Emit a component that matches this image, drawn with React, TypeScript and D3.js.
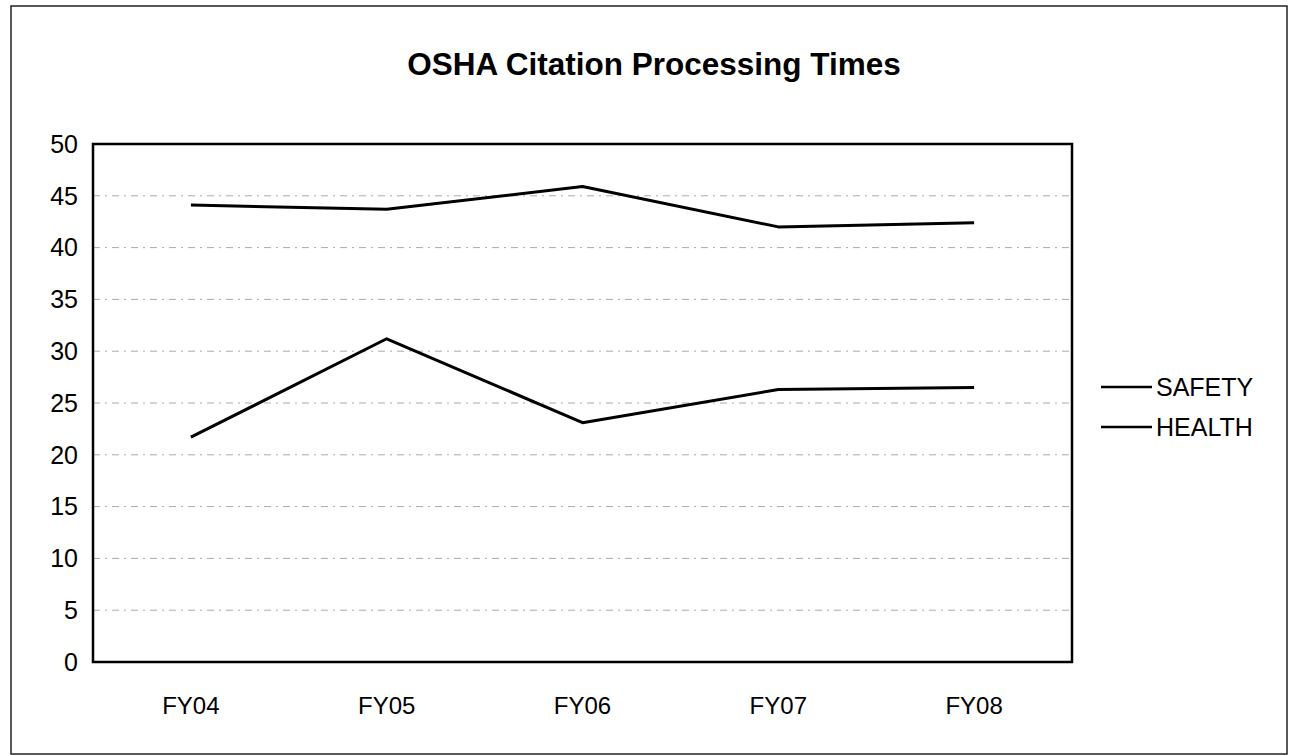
import React from "react";
import * as d3 from "d3";

const categories = ["FY04", "FY05", "FY06", "FY07", "FY08"];
const seriesNames = ["SAFETY", "HEALTH"];
const safetyValues = [21.7, 31.2, 23.1, 26.3, 26.5];
const healthValues = [44.1, 43.7, 45.9, 42.0, 42.4];
const yTicks = [0, 5, 10, 15, 20, 25, 30, 35, 40, 45, 50];
const title = "OSHA Citation Processing Times";

const W = 1292;
const H = 755;
const plot = { left: 93, right: 1072, top: 144, bottom: 662 };

export default function App() {
  const x = d3
    .scaleBand<string>()
    .domain(categories)
    .range([plot.left, plot.right])
    .padding(0);
  const y = d3.scaleLinear().domain([0, 50]).range([plot.bottom, plot.top]);
  const cx = (c: string) => (x(c) as number) + x.bandwidth() / 2;

  const line = d3
    .line<number>()
    .x((_, i) => cx(categories[i]))
    .y((d) => y(d));

  const series = [safetyValues, healthValues];
  const font = "Arial, 'Liberation Sans', Helvetica, sans-serif";

  return (
    <svg
      width={W}
      height={H}
      style={{ position: "absolute", left: 0, top: 0, background: "#fff" }}
      fontFamily={font}
    >
      <rect x={0} y={0} width={W} height={H} fill="#fff" />
      <rect
        x={11}
        y={6}
        width={1276}
        height={748}
        fill="none"
        stroke="#222"
        strokeWidth={1.5}
      />
      <text
        x={654}
        y={75}
        textAnchor="middle"
        fontSize={31.5}
        fontWeight="bold"
        fill="#000"
      >
        {title}
      </text>

      {yTicks
        .filter((t) => t > 0 && t < 50)
        .map((t) => (
          <line
            key={"g" + t}
            x1={plot.left}
            x2={plot.right}
            y1={y(t)}
            y2={y(t)}
            stroke="#aaa"
            strokeWidth={1}
            strokeDasharray="7,5,2,5"
          />
        ))}

      {yTicks.map((t) => (
        <text
          key={"yl" + t}
          x={78}
          y={y(t)}
          dy="0.35em"
          textAnchor="end"
          fontSize={25}
          fill="#000"
        >
          {t}
        </text>
      ))}

      {categories.map((c) => (
        <text
          key={"xl" + c}
          x={cx(c)}
          y={714}
          textAnchor="middle"
          fontSize={24}
          fill="#000"
        >
          {c}
        </text>
      ))}

      {series.map((vals, i) => (
        <path
          key={"s" + i}
          d={line(vals) as string}
          fill="none"
          stroke="#000"
          strokeWidth={3}
          strokeLinejoin="round"
        />
      ))}

      <rect
        x={plot.left}
        y={plot.top}
        width={plot.right - plot.left}
        height={plot.bottom - plot.top}
        fill="none"
        stroke="#000"
        strokeWidth={2.5}
      />

      {seriesNames.map((n, i) => (
        <g key={"lg" + n} transform={`translate(0, ${387 + i * 40})`}>
          <line x1={1101} x2={1152} y1={0} y2={0} stroke="#000" strokeWidth={2.5} />
          <text x={1156} y={0} dy="0.35em" fontSize={25} fill="#000">
            {n}
          </text>
        </g>
      ))}
    </svg>
  );
}
